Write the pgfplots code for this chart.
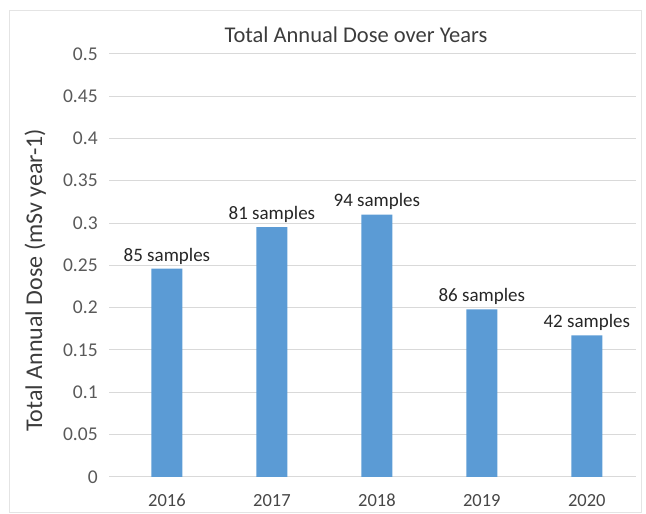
\documentclass[border=0pt]{standalone}
\usepackage{pgfplots}
\pgfplotsset{compat=1.18}
\usepackage{fontspec}
\setmainfont{Carlito}
\definecolor{barblue}{HTML}{5B9BD5}
\definecolor{gridgray}{HTML}{D9D9D9}
\definecolor{ticktext}{HTML}{595959}
\definecolor{labtext}{HTML}{262626}
\begin{document}
\begin{tikzpicture}[x=1pt,y=1pt]
\useasboundingbox (0,0) rectangle (646,514);
\draw[gridgray!70, line width=0.8pt] (9,2) rectangle (641,504);
\begin{axis}[
  at={(104,44)}, anchor=south west,
  scale only axis, width=527, height=423,
  xmin=-0.55, xmax=4.47, ymin=0, ymax=0.5,
  ytick={0,0.05,...,0.5},
  yticklabels={0,0.05,0.1,0.15,0.2,0.25,0.3,0.35,0.4,0.45,0.5},
  xtick={0,1,2,3,4},
  xticklabels={2016,2017,2018,2019,2020},
  axis line style={draw=none},
  major tick length=0pt,
  ymajorgrids, grid style={gridgray, line width=0.8pt},
  yticklabel style={font=\fontsize{19.5}{21}\selectfont, text=ticktext, xshift=-8pt},
  xticklabel style={font=\fontsize{18.5}{20}\selectfont, text=labtext!85, yshift=-14pt},
  /pgf/number format/assume math mode=true,
  ylabel={Total Annual Dose (mSv year-1)},
  ylabel style={font=\fontsize{24}{26}\selectfont, text=labtext!90, at={(axis description cs:0,0.5)}, anchor=center, yshift=74pt, xshift=-15pt},
  clip=false,
]
\addplot[ybar, bar width=31pt, fill=barblue, draw=none,
  point meta=explicit symbolic,
  nodes near coords,
  every node near coord/.append style={font=\fontsize{19}{21}\selectfont, text=labtext, anchor=south, yshift=1pt}]
  table[meta=lab, col sep=comma] {
x,y,lab
0,0.246,85 samples
1,0.295,81 samples
2,0.310,94 samples
3,0.198,86 samples
4,0.167,42 samples
};
\end{axis}
\node[font=\fontsize{22.5}{24}\selectfont, text=labtext!90] at (356,479) {Total Annual Dose over Years};
\end{tikzpicture}
\end{document}
